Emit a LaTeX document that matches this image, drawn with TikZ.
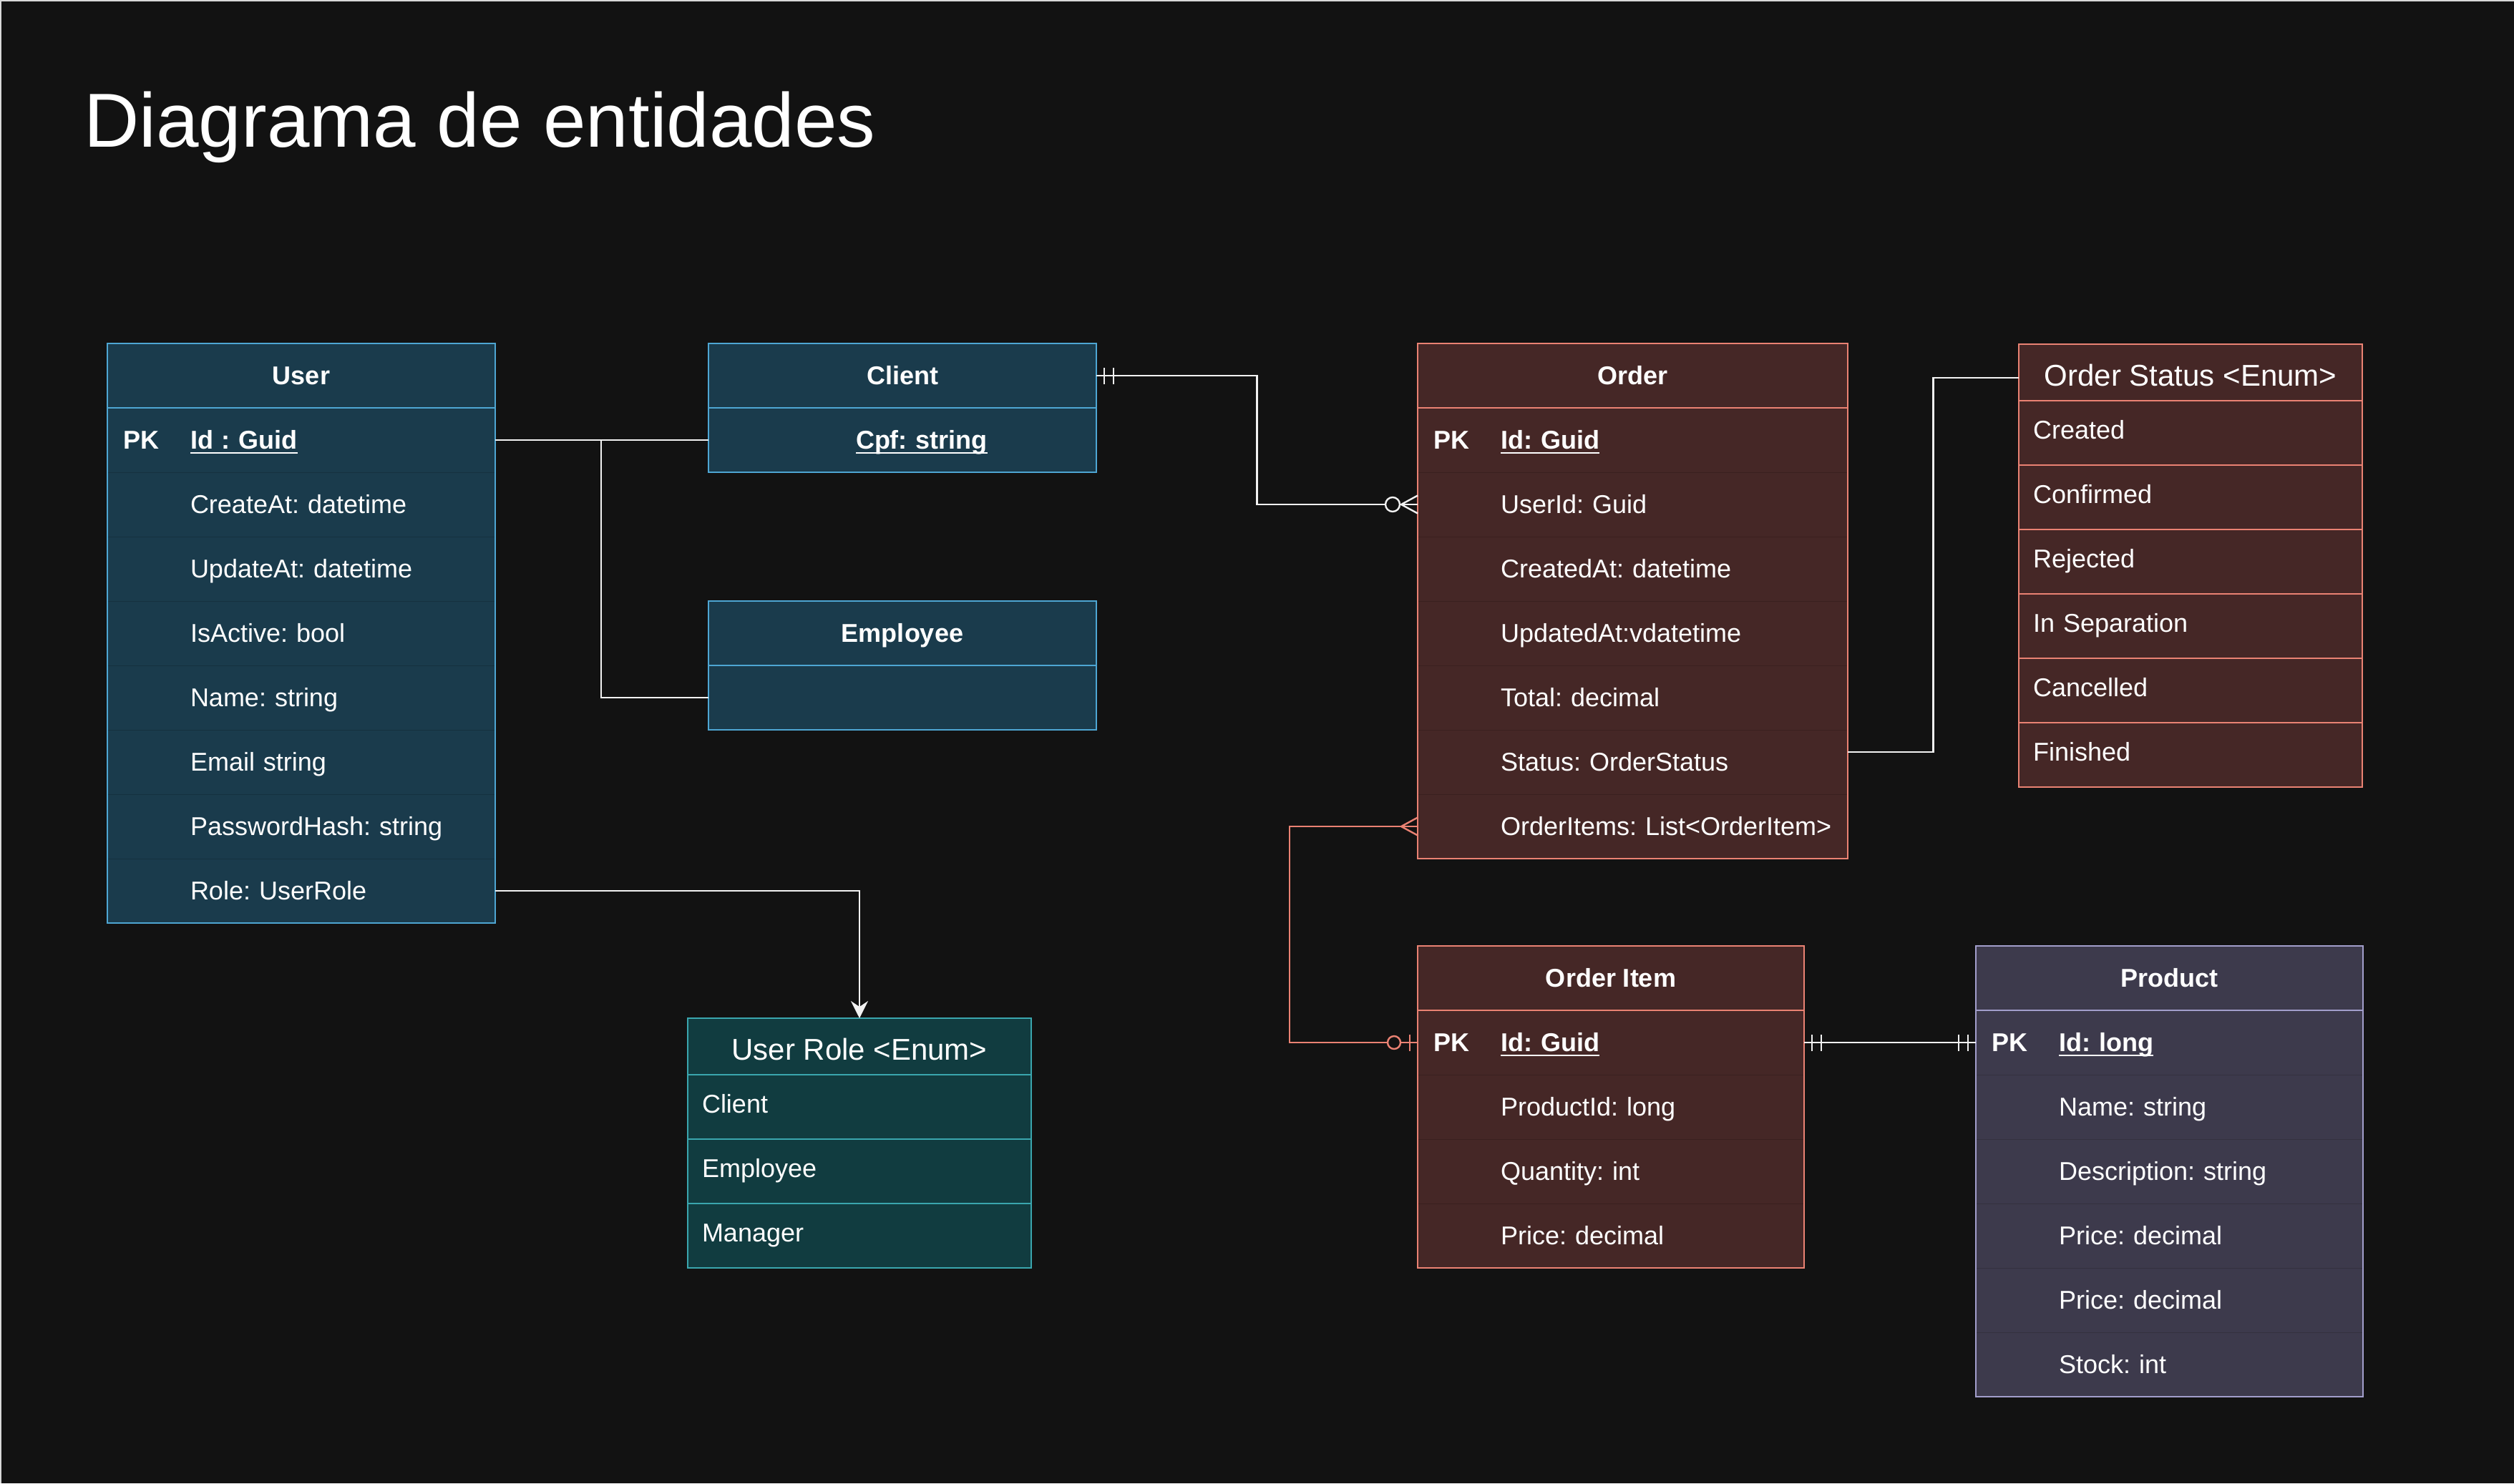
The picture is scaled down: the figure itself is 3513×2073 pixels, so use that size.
\documentclass[tikz,border=0pt]{standalone}
\usepackage{fontspec}
\setmainfont{Liberation Sans}
\usepackage{tikz}
\usetikzlibrary{positioning, arrows.meta, calc}
\usepackage{xcolor}
\frenchspacing

\definecolor{bgcol}{HTML}{121212}
\definecolor{edgecol}{HTML}{D8D8D8}
\definecolor{userfill}{HTML}{1A3B4C}
\definecolor{userline}{HTML}{4EA6D3}
\definecolor{usersep}{HTML}{15313F}
\definecolor{rolefill}{HTML}{113C40}
\definecolor{roleline}{HTML}{3AA6AE}
\definecolor{orderfill}{HTML}{452726}
\definecolor{orderline}{HTML}{EA8273}
\definecolor{ordersep}{HTML}{3A201F}
\definecolor{prodfill}{HTML}{3D3A4C}
\definecolor{prodline}{HTML}{A29ECB}
\definecolor{prodsep}{HTML}{34313F}
\definecolor{linkcol}{HTML}{F2F2F2}

\newcommand{\ulkey}[1]{\setbox0\hbox{#1}\rlap{\rule[-3pt]{\wd0}{1pt}}\box0}
\newcommand{\pkcell}[1]{\makebox[47pt][l]{\bfseries PK}\ulkey{\bfseries #1}}
\newcommand{\fieldcell}{\hspace*{47pt}}

\tikzset{
    every node/.style={
        text=white,
        font=\fontsize{18}{21.6}\selectfont
    },
    tblhead/.style={
        rectangle,
        outer sep=0pt,
        inner sep=0pt,
        minimum height=45pt,
        text height=12.9pt,
        text depth=0pt,
        line width=1.2pt,
        font=\fontsize{18}{21.6}\selectfont\bfseries
    },
    tblrow/.style={
        rectangle,
        outer sep=0pt,
        inner xsep=11pt,
        inner ysep=0pt,
        minimum height=45pt,
        text height=12.9pt,
        text depth=0pt,
        align=left
    },
    userhead/.style={tblhead, fill=userfill, draw=userline, minimum width=271pt},
    userrow/.style={tblrow, fill=userfill, draw=usersep, text width=249pt},
    userframe/.style={draw=userline, line width=1.2pt},
    orderhead/.style={tblhead, fill=orderfill, draw=orderline, minimum width=300.5pt},
    orderrow/.style={tblrow, fill=orderfill, draw=ordersep, text width=278.5pt},
    itemhead/.style={tblhead, fill=orderfill, draw=orderline, minimum width=270pt},
    itemrow/.style={tblrow, fill=orderfill, draw=ordersep, text width=248pt},
    orderframe/.style={draw=orderline, line width=1.2pt},
    prodhead/.style={tblhead, fill=prodfill, draw=prodline, minimum width=270.5pt},
    prodrow/.style={tblrow, fill=prodfill, draw=prodsep, text width=248.5pt},
    prodframe/.style={draw=prodline, line width=1.2pt},
    enumhead/.style={
        rectangle,
        outer sep=0pt,
        inner sep=0pt,
        minimum width=240pt,
        minimum height=39.5pt,
        text height=18.5pt,
        text depth=0pt,
        line width=1.3pt,
        font=\fontsize{21}{25}\selectfont
    },
    enumrow/.style={
        rectangle,
        outer sep=0pt,
        inner xsep=10pt,
        inner ysep=0pt,
        minimum height=45pt,
        text width=220pt,
        text height=12.9pt,
        text depth=4pt,
        line width=1.3pt,
        align=left
    },
    rolehead/.style={enumhead, fill=rolefill, draw=roleline},
    rolerow/.style={enumrow, fill=rolefill, draw=roleline},
    statushead/.style={enumhead, fill=orderfill, draw=orderline},
    statusrow/.style={enumrow, fill=orderfill, draw=orderline},
    rel/.style={
        line width=1.2pt,
        color=linkcol
    },
    relsalmon/.style={
        line width=1.2pt,
        color=orderline
    },
    ermandone/.pic={\draw (-11,-11.5) -- (-11,11.5) (-24,-11.5) -- (-24,11.5);},
    erzeromany/.pic={\draw (0,-12.5) -- (-23,0) -- (0,12.5); \filldraw[fill=bgcol] (-35,0) circle (10);},
    erzeroone/.pic={\draw (-11,-11.5) -- (-11,11.5); \filldraw[fill=bgcol] (-33,0) circle (9);},
    ermany/.pic={\draw (0,-12.5) -- (-23,0) -- (0,12.5);}
}

\begin{document}
\begin{tikzpicture}[x=0.5pt, y=-0.5pt]

\useasboundingbox (0,0) rectangle (3513,2073);
\fill[bgcol] (0,0) rectangle (3513,2073);
\draw[edgecol, line width=1.2pt] (1,2073) -- (1,1) -- (3513,1);

\node[anchor=base west, inner sep=0pt, font=\fontsize{53.5}{64}\selectfont] (title) at (117,205) {Diagrama de entidades};

%---------------- User ----------------

\node[userhead, anchor=north west] (uHead) at (150,480) {User};
\node[userrow, below=0pt of uHead] (uId) {\pkcell{Id : Guid}};
\node[userrow, below=0pt of uId] (uCreate) {\fieldcell CreateAt: datetime};
\node[userrow, below=0pt of uCreate] (uUpdate) {\fieldcell UpdateAt: datetime};
\node[userrow, below=0pt of uUpdate] (uActive) {\fieldcell IsActive: bool};
\node[userrow, below=0pt of uActive] (uName) {\fieldcell Name: string};
\node[userrow, below=0pt of uName] (uEmail) {\fieldcell Email string};
\node[userrow, below=0pt of uEmail] (uHash) {\fieldcell PasswordHash: string};
\node[userrow, below=0pt of uHash] (uRole) {\fieldcell Role: UserRole};
\draw[userframe] (uHead.north west) rectangle (uRole.south east) (uHead.south west) -- (uHead.south east);

%---------------- Client and Employee ----------------

\node[userhead, anchor=north west] (cHead) at (990,480) {Client};
\node[userrow, below=0pt of cHead] (cCpf) {\hspace*{92pt}\ulkey{\bfseries Cpf: string}};
\draw[userframe] (cHead.north west) rectangle (cCpf.south east) (cHead.south west) -- (cHead.south east);

\node[userhead, anchor=north west] (eHead) at (990,840) {Employee};
\node[userrow, below=0pt of eHead] (eBody) {};
\draw[userframe] (eHead.north west) rectangle (eBody.south east) (eHead.south west) -- (eHead.south east);

%---------------- User Role ----------------

\node[rolehead, anchor=north west] (urHead) at (961,1423) {User Role <Enum>};
\node[rolerow, below=0pt of urHead] (urClient) {Client};
\node[rolerow, below=0pt of urClient] (urEmployee) {Employee};
\node[rolerow, below=0pt of urEmployee] (urManager) {Manager};

%---------------- Order ----------------

\node[orderhead, anchor=north west] (oHead) at (1981,480) {Order};
\node[orderrow, below=0pt of oHead] (oId) {\pkcell{Id: Guid}};
\node[orderrow, below=0pt of oId] (oUserId) {\fieldcell UserId: Guid};
\node[orderrow, below=0pt of oUserId] (oCreated) {\fieldcell CreatedAt: datetime};
\node[orderrow, below=0pt of oCreated] (oUpdated) {\fieldcell UpdatedAt:vdatetime};
\node[orderrow, below=0pt of oUpdated] (oTotal) {\fieldcell Total: decimal};
\node[orderrow, below=0pt of oTotal] (oStatus) {\fieldcell Status: OrderStatus};
\node[orderrow, below=0pt of oStatus] (oItems) {\fieldcell\mbox{OrderItems: List<OrderItem>}};
\draw[orderframe] (oHead.north west) rectangle (oItems.south east) (oHead.south west) -- (oHead.south east);

%---------------- Order Status ----------------

\node[statushead, anchor=north west] (osHead) at (2821,481) {Order Status <Enum>};
\node[statusrow, below=0pt of osHead] (osCreated) {Created};
\node[statusrow, below=0pt of osCreated] (osConfirmed) {Confirmed};
\node[statusrow, below=0pt of osConfirmed] (osRejected) {Rejected};
\node[statusrow, below=0pt of osRejected] (osSeparation) {In Separation};
\node[statusrow, below=0pt of osSeparation] (osCancelled) {Cancelled};
\node[statusrow, below=0pt of osCancelled] (osFinished) {Finished};

%---------------- Order Item ----------------

\node[itemhead, anchor=north west] (oiHead) at (1981,1322) {Order Item};
\node[itemrow, below=0pt of oiHead] (oiId) {\pkcell{Id: Guid}};
\node[itemrow, below=0pt of oiId] (oiProduct) {\fieldcell ProductId: long};
\node[itemrow, below=0pt of oiProduct] (oiQty) {\fieldcell Quantity: int};
\node[itemrow, below=0pt of oiQty] (oiPrice) {\fieldcell Price: decimal};
\draw[orderframe] (oiHead.north west) rectangle (oiPrice.south east) (oiHead.south west) -- (oiHead.south east);

%---------------- Product ----------------

\node[prodhead, anchor=north west] (pHead) at (2761,1322) {Product};
\node[prodrow, below=0pt of pHead] (pId) {\pkcell{Id: long}};
\node[prodrow, below=0pt of pId] (pName) {\fieldcell Name: string};
\node[prodrow, below=0pt of pName] (pDesc) {\fieldcell Description: string};
\node[prodrow, below=0pt of pDesc] (pPriceA) {\fieldcell Price: decimal};
\node[prodrow, below=0pt of pPriceA] (pPriceB) {\fieldcell Price: decimal};
\node[prodrow, below=0pt of pPriceB] (pStock) {\fieldcell Stock: int};
\draw[prodframe] (pHead.north west) rectangle (pStock.south east) (pHead.south west) -- (pHead.south east);

%---------------- Relations ----------------

\coordinate (uJoin) at (840,615);
\draw[rel] (uId.east) -- (cCpf.west);
\draw[rel] (uJoin) |- (eBody.west);

\draw[rel, -{Stealth[length=12pt, width=12pt, inset=4pt]}] (uRole.east) -| (urHead.north);

\draw[rel] (cHead.east) -| ($(cHead.east)!0.5!(oUserId.west)$) |- (oUserId.west);
\pic[rel, rotate=180] at (cHead.east) {ermandone};
\pic[rel] at (oUserId.west) {erzeromany};

\draw[rel] ([yshift=-3.75pt]osHead.west) -| ($(osHead.west)!0.5!(oStatus.east)$) |- ([yshift=7pt]oStatus.east);

\draw[relsalmon] (oItems.west) -- ++(-179,0) |- (oiId.west);
\pic[relsalmon] at (oItems.west) {ermany};
\pic[relsalmon] at (oiId.west) {erzeroone};

\draw[rel] (oiId.east) -- (pId.west);
\pic[rel, rotate=180] at (oiId.east) {ermandone};
\pic[rel] at (pId.west) {ermandone};

\end{tikzpicture}
\end{document}
